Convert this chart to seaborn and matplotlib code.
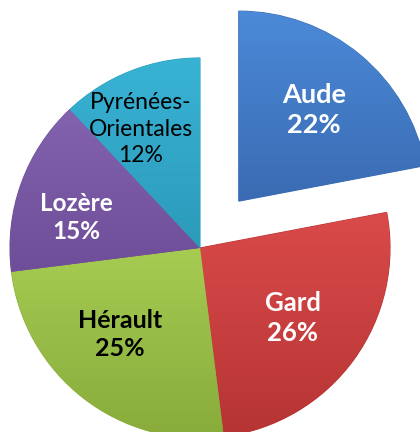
import numpy as np
import matplotlib
matplotlib.use("Agg")
import matplotlib.pyplot as plt
from matplotlib.colors import LinearSegmentedColormap
import seaborn as sns

# data
departements = ["Aude", "Gard", "Hérault", "Lozère", "Pyrénées-\nOrientales"]
parts = [22, 26, 25, 15, 12]

# light (top) and dark (bottom) shade of each slice
col_top = ["#4B8AD8", "#DA4A4A", "#A6CC52", "#8362AE", "#38B3D4"]
col_bot = ["#3A6BB2", "#B63434", "#88AB3B", "#6E4E98", "#2C9ABB"]
txt_col = ["white", "white", "black", "white", "black"]
txt_weight = ["bold", "bold", "bold", "bold", "normal"]
txt_size = [19.5, 18.5, 18, 17.5, 16.5]
# label placement (fraction of radius, angle shift in degrees)
lab_r = [0.62, 0.61, 0.62, 0.67, 0.70]
lab_shift = [0, -1, -5, 6, 5]

sns.set_theme(style="white")
plt.rcParams["font.family"] = ["Lato", "DejaVu Sans"]

fig = plt.figure(figsize=(4.2, 4.32), dpi=100)
ax = fig.add_axes([0, 0, 1, 1])

explode = [0.32, 0, 0, 0, 0]
wedges, _ = ax.pie(parts, startangle=90, counterclock=False, explode=explode,
                   colors=col_top, radius=1.0,
                   wedgeprops=dict(linewidth=0.8, edgecolor="none"))

for i, w in enumerate(wedges):
    # vertical gradient clipped to the wedge, like the excel bevel look
    bb = w.get_path().get_extents()
    cmap = LinearSegmentedColormap.from_list("g%d" % i, [col_bot[i], col_top[i]])
    grad = np.linspace(0, 1, 256).reshape(-1, 1)
    im = ax.imshow(grad, cmap=cmap, origin="lower", aspect="auto",
                   extent=[bb.x0, bb.x1, bb.y0, bb.y1], zorder=2)
    im.set_clip_path(w)
    # thin darker rim
    w.set_edgecolor(col_bot[i])
    w.set_zorder(1)

    th = np.deg2rad((w.theta1 + w.theta2) / 2 + lab_shift[i])
    cx, cy = w.center
    ax.text(cx + lab_r[i] * np.cos(th), cy + lab_r[i] * np.sin(th),
            "%s\n%d%%" % (departements[i], parts[i]),
            ha="center", va="center", color=txt_col[i], fontweight=txt_weight[i],
            fontsize=txt_size[i], linespacing=1.3, zorder=5)

# frame so that the pie sits where it does in the reference
ax.set_xlim(-200 / 190, 220 / 190)
ax.set_ylim(-184 / 190, 248 / 190)
ax.set_aspect("equal")
ax.axis("off")

fig.savefig("out.png", dpi=100)
